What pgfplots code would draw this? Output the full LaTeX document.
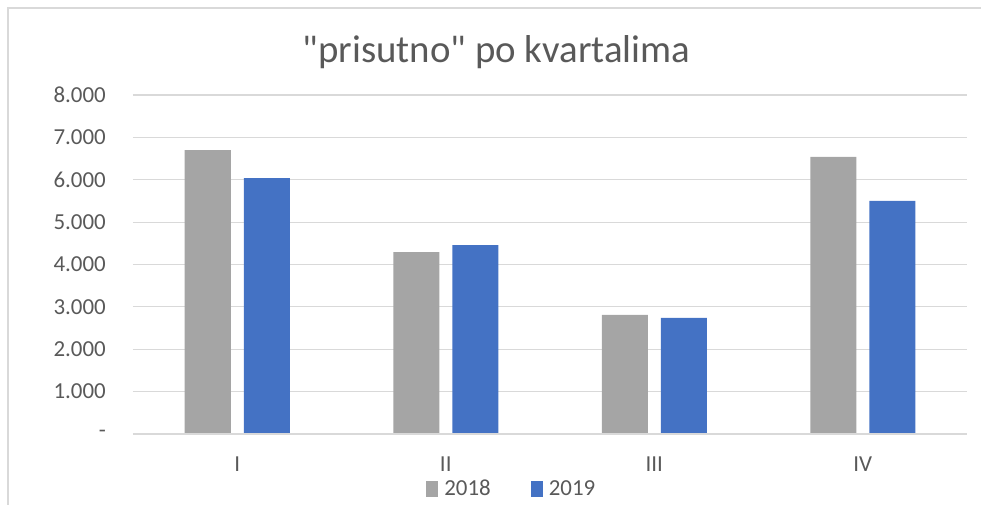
\documentclass[border=0pt]{standalone}
\usepackage{fontspec}
\setmainfont{Carlito}[Ligatures=TeXOff]
\usepackage{pgfplots}
\pgfplotsset{compat=1.18}
\definecolor{bargray}{HTML}{A5A5A5}
\definecolor{barblue}{HTML}{4472C4}
\definecolor{txtgray}{HTML}{595959}
\definecolor{gridgray}{HTML}{D9D9D9}
\begin{document}
\begin{tikzpicture}
\path[use as bounding box] (-133bp,-71bp) rectangle (848bp,434bp);
\draw[gridgray, line width=1.2bp] (-125bp,-71bp) -- (-125bp,426bp) -- (848bp,426bp);
\begin{axis}[
  at={(0,0)}, anchor=south west,
  x=208.5bp, y=0.042375bp,
  xmin=-0.5, xmax=3.5, ymin=0, ymax=8000,
  axis x line*=bottom, axis y line*=left,
  axis line style={draw=none},
  ybar=13bp, bar width=46bp,
  xtick={0,1,2,3}, xticklabels={I,II,III,IV},
  ytick={0,1000,...,8000},
  yticklabels={-\hspace{12bp},1.000,2.000,3.000,4.000,5.000,6.000,7.000,8.000},
  major tick length=0pt,
  ymajorgrids, xmajorgrids=false,
  grid style={gridgray, line width=1.2bp},
  tick label style={font=\fontsize{23}{27}\selectfont, text=txtgray},
  yticklabel style={anchor=east, inner sep=0pt, xshift=-27bp},
  xticklabel style={anchor=north, inner sep=0pt, yshift=-23bp},
  clip=false,
  legend columns=2,
  legend style={at={(0.453,-0.162)}, anchor=center, draw=none, fill=none,
    font=\fontsize{23}{27}\selectfont, text=txtgray,
    nodes={inner sep=0pt, anchor=west},
    /tikz/every even column/.append style={column sep=40bp}},
  legend image code/.code={\fill[#1] (0bp,-8bp) rectangle (12bp,8bp);},
  legend cell align=left,
]
\addplot[fill=bargray, draw=none] coordinates {(0,6700) (1,4295) (2,2810) (3,6540)};
\addplot[fill=barblue, draw=none] coordinates {(0,6040) (1,4460) (2,2740) (3,5500)};
\legend{\hspace{6bp}2018,\hspace{6bp}2019}
\draw[gridgray, line width=1.6bp] (axis cs:-0.5,0) -- (axis cs:3.5,0);
\node[text=txtgray, font=\fontsize{39}{46}\selectfont] at (rel axis cs:0.436,1.127) {"prisutno" po kvartalima};
\end{axis}
\end{tikzpicture}
\end{document}
